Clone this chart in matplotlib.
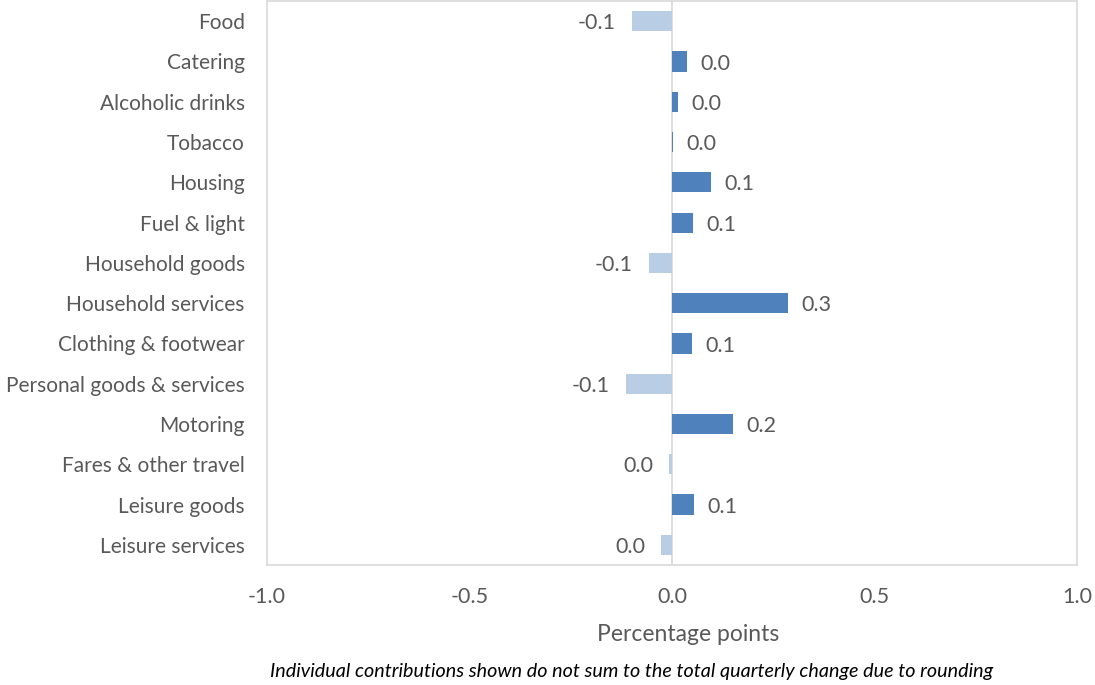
import matplotlib
matplotlib.use("Agg")
import matplotlib.pyplot as plt

categories = [
    "Food", "Catering", "Alcoholic drinks", "Tobacco", "Housing",
    "Fuel & light", "Household goods", "Household services",
    "Clothing & footwear", "Personal goods & services", "Motoring",
    "Fares & other travel", "Leisure goods", "Leisure services",
]
contributions = [
    -0.099, 0.037, 0.015, 0.002, 0.097,
    0.052, -0.057, 0.287,
    0.050, -0.114, 0.151,
    -0.007, 0.054, -0.027,
]
x_ticks = [-1.0, -0.5, 0.0, 0.5, 1.0]

POS_COLOR = "#4F81BD"
NEG_COLOR = "#B9CDE5"
TEXT_COLOR = "#595959"
FRAME_COLOR = "#D9D9D9"

plt.rcParams["font.family"] = ["Lato", "DejaVu Sans"]

fig = plt.figure(figsize=(10.95, 6.85), dpi=100)
ax = fig.add_axes([0.2438, 0.1752, 0.7397, 0.8233])

ypos = list(range(len(categories)))
colors = [POS_COLOR if v >= 0 else NEG_COLOR for v in contributions]
ax.barh(ypos, contributions, height=0.5, color=colors, zorder=3)

for y, v in zip(ypos, contributions):
    label = f"{v:.1f}"
    if label == "-0.0":
        label = "0.0"
    if v >= 0:
        ax.annotate(label, (v, y), xytext=(9.5, -1.5), textcoords="offset points",
                    ha="left", va="center", fontsize=15.5, color=TEXT_COLOR)
    else:
        ax.annotate(label, (v, y), xytext=(-11.5, -1.5), textcoords="offset points",
                    ha="right", va="center", fontsize=15.5, color=TEXT_COLOR)

ax.axvline(0, color=FRAME_COLOR, lw=1.2, zorder=2)

ax.set_xlim(-1.0, 1.0)
ax.set_ylim(len(categories) - 0.5, -0.5)
ax.set_yticks(ypos)
ax.set_yticklabels(categories)
ax.set_xticks(x_ticks)
ax.set_xticklabels([f"{t:.1f}" for t in x_ticks])
ax.tick_params(axis="y", length=0, pad=16, labelsize=15, labelcolor=TEXT_COLOR)
ax.tick_params(axis="x", length=0, pad=16, labelsize=15.5, labelcolor=TEXT_COLOR)

for s in ax.spines.values():
    s.set_color(FRAME_COLOR)
    s.set_linewidth(1.2)

ax.set_xlabel("Percentage points", fontsize=16.5, color=TEXT_COLOR)
ax.xaxis.set_label_coords(0.52, -0.105)

fig.text(0.577, 0.019,
         "Individual contributions shown do not sum to the total quarterly change due to rounding",
         ha="center", va="center", fontsize=14.2, style="italic", color="black")

fig.savefig("out.png", dpi=100)
